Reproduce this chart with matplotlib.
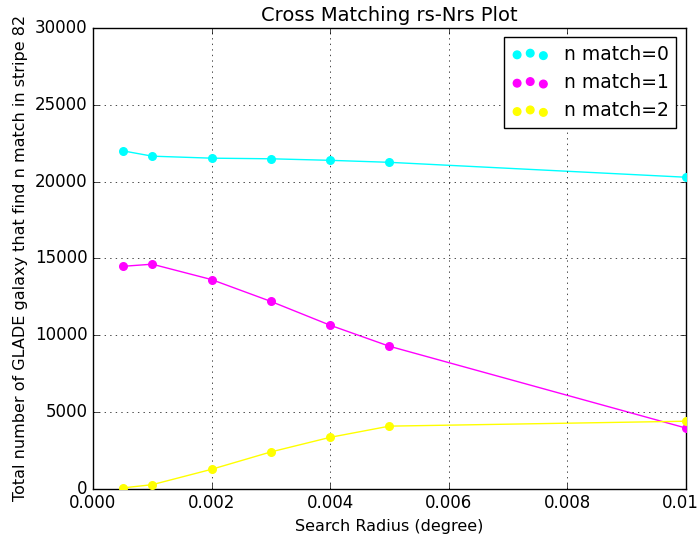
import matplotlib
matplotlib.use("Agg")
import matplotlib.pyplot as plt

plt.style.use("classic")

# search radius (degree) and counts of GLADE galaxies per number of matches
radius = [0.0005, 0.001, 0.002, 0.003, 0.004, 0.005, 0.01]
n_match0 = [22000, 21650, 21520, 21480, 21380, 21250, 20280]
n_match1 = [14480, 14620, 13620, 12200, 10650, 9280, 3960]
n_match2 = [60, 270, 1270, 2400, 3350, 4080, 4400]

series = [
    (n_match0, "cyan", "n match=0"),
    (n_match1, "magenta", "n match=1"),
    (n_match2, "yellow", "n match=2"),
]

fig = plt.figure(figsize=(6.99, 5.36), dpi=100)
ax = fig.add_axes([0.133, 0.088, 0.848, 0.860])

for counts, color, label in series:
    ax.plot(radius, counts, color=color, linewidth=1.0)
    ax.scatter(radius, counts, s=30, color=color, edgecolors=color, label=label, zorder=3)

ax.set_xlim(0, 0.01)
ax.set_ylim(0, 30000)
ax.grid(True)
ax.set_title("Cross Matching rs-Nrs Plot", fontsize=14)
ax.set_xlabel("Search Radius (degree)", fontsize=11.5)
ax.set_ylabel("Total number of GLADE galaxy that find n match in stripe 82", fontsize=11.5)
ax.legend(loc="upper right", scatterpoints=3, fontsize=13.5)

fig.savefig("out.png", dpi=100)
